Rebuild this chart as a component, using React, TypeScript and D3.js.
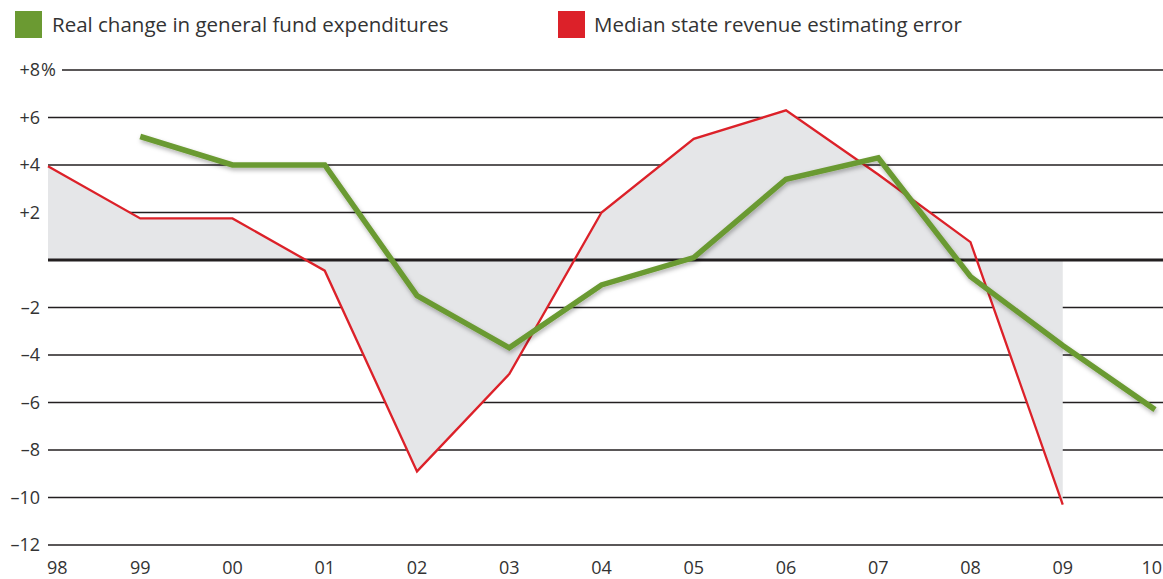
import React from "react";
import * as d3 from "d3";

const years = ["98", "99", "00", "01", "02", "03", "04", "05", "06", "07", "08", "09", "10"];
const revenueError: (number | null)[] = [3.95, 1.75, 1.75, -0.45, -8.9, -4.8, 2.0, 5.1, 6.3, 3.6, 0.75, -10.3, null];
const expenditures: (number | null)[] = [null, 5.2, 4.0, 4.0, -1.5, -3.7, -1.05, 0.1, 3.4, 4.3, -0.7, -3.6, -6.3];
const yTicks = [8, 6, 4, 2, 0, -2, -4, -6, -8, -10, -12];
const legendItems = [
  { label: "Real change in general fund expenditures", color: "#6b9a32" },
  { label: "Median state revenue estimating error", color: "#dc2129" },
];

const W = 1163;
const H = 579;
const FONT = "'Open Sans', Lato, sans-serif";

export default function App() {
  const x = d3.scalePoint<string>().domain(years).range([48, 1155]);
  const y = d3.scaleLinear().domain([-12, 8]).range([545, 70]);

  const redPts = years
    .map((yr, i) => ({ yr, v: revenueError[i] }))
    .filter((d) => d.v !== null) as { yr: string; v: number }[];
  const greenPts = years
    .map((yr, i) => ({ yr, v: expenditures[i] }))
    .filter((d) => d.v !== null) as { yr: string; v: number }[];

  const area = d3
    .area<{ yr: string; v: number }>()
    .x((d) => x(d.yr)!)
    .y0(y(0))
    .y1((d) => y(d.v));
  const line = d3
    .line<{ yr: string; v: number }>()
    .x((d) => x(d.yr)!)
    .y((d) => y(d.v));

  return (
    <svg width={W} height={H} style={{ position: "absolute", left: 0, top: 0, background: "#fff" }}>
      <defs>
        <filter id="shadow" x="-10%" y="-10%" width="120%" height="130%">
          <feDropShadow dx="1" dy="2.5" stdDeviation="2" floodColor="#000" floodOpacity="0.3" />
        </filter>
      </defs>
      {/* Legend */}
      <rect x={15} y={11} width={27} height={27} fill={legendItems[0].color} />
      <text x={52} y={32} fontFamily={FONT} fontSize={20.5} fill="#333">
        {legendItems[0].label}
      </text>
      <rect x={558} y={11} width={27} height={27} fill={legendItems[1].color} />
      <text x={594} y={32} fontFamily={FONT} fontSize={20.5} fill="#333">
        {legendItems[1].label}
      </text>

      {/* gridlines */}
      {yTicks
        .filter((t) => t !== 0)
        .map((t) => (
          <line
            key={t}
            x1={t === 8 ? 62 : 48}
            x2={W}
            y1={y(t)}
            y2={y(t)}
            stroke="#231f20"
            strokeWidth={1.3}
          />
        ))}

      {/* Area between red and zero */}
      <path d={area(redPts)!} fill="#e5e6e8" />

      {/* zero line */}
      <line x1={48} x2={W} y1={y(0)} y2={y(0)} stroke="#231f20" strokeWidth={2.8} />

      {/* y tick labels */}
      {yTicks.map((t) => (
        <text
          key={t}
          x={40}
          y={y(t)}
          dy="0.36em"
          textAnchor="end"
          fontFamily={FONT}
          fontSize={18}
          fill="#333"
        >
          {t > 0 ? `+${t}` : t < 0 ? `\u2013${Math.abs(t)}` : ""}
        </text>
      ))}
      <text x={41} y={y(8)} dy="0.36em" fontFamily={FONT} fontSize={18} fill="#333">
        %
      </text>

      {/* x labels */}
      {years.map((yr, i) => (
        <text
          key={yr}
          x={i === 0 ? 47 : i === years.length - 1 ? W - 1 : x(yr)!}
          y={574}
          textAnchor={i === 0 ? "start" : i === years.length - 1 ? "end" : "middle"}
          fontFamily={FONT}
          fontSize={18}
          fill="#333"
        >
          {yr}
        </text>
      ))}

      {/* red line */}
      <path d={line(redPts)!} fill="none" stroke="#dc2129" strokeWidth={2.3} strokeLinejoin="miter" />

      {/* green line */}
      <path
        d={line(greenPts)!}
        fill="none"
        stroke="#6b9a32"
        strokeWidth={5.5}
        strokeLinejoin="miter"
        filter="url(#shadow)"
      />
    </svg>
  );
}
